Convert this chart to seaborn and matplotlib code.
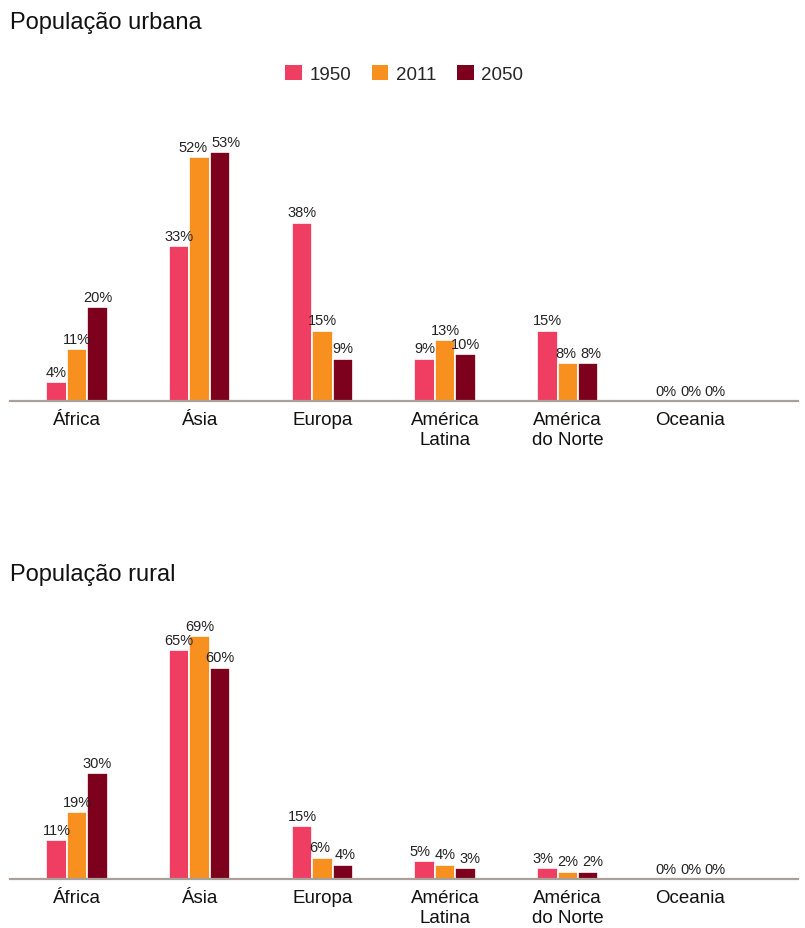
import pandas as pd
import matplotlib
matplotlib.use('Agg')
import matplotlib.pyplot as plt
import seaborn as sns
from matplotlib.patches import Patch

regioes = ['África', 'Ásia', 'Europa', 'América\nLatina', 'América\ndo Norte', 'Oceania']
anos = ['1950', '2011', '2050']
cores = ['#F03E62', '#F7901E', '#7D001C']

urbana_1950 = [4, 33, 38, 9, 15, 0]
urbana_2011 = [11, 52, 15, 13, 8, 0]
urbana_2050 = [20, 53, 9, 10, 8, 0]

rural_1950 = [11, 65, 15, 5, 3, 0]
rural_2011 = [19, 69, 6, 4, 2, 0]
rural_2050 = [30, 60, 4, 3, 2, 0]


def to_long(s1950, s2011, s2050):
    rows = []
    for ano, serie in zip(anos, [s1950, s2011, s2050]):
        for reg, v in zip(regioes, serie):
            rows.append({'regiao': reg, 'ano': ano, 'valor': v})
    return pd.DataFrame(rows)


sns.set_style('white')
plt.rcParams['font.family'] = ['Liberation Sans', 'DejaVu Sans']

fig = plt.figure(figsize=(8.05, 9.29), dpi=100)
ax_u = fig.add_axes([10 / 805, 1 - 402 / 929, 788 / 805, 60 * 4.69 / 929])
ax_r = fig.add_axes([10 / 805, 1 - 880 / 929, 788 / 805, 75 * 3.52 / 929])

all_labels = []
for ax, df, ymax in [(ax_u, to_long(urbana_1950, urbana_2011, urbana_2050), 60),
                     (ax_r, to_long(rural_1950, rural_2011, rural_2050), 75)]:
    sns.barplot(data=df, x='regiao', y='valor', hue='ano', order=regioes,
                hue_order=anos, palette=cores, saturation=1, width=0.5,
                edgecolor='white', linewidth=1.2, ax=ax)
    per_hue = []
    for cont in ax.containers:
        vals = [p.get_height() for p in cont]
        per_hue.append(ax.bar_label(cont, labels=[f'{v:.0f}%' for v in vals],
                                    padding=2.5, fontsize=10.5, color='#222222'))
    all_labels.append(per_hue)
    ax.set_xlim(-0.546, 5.876)
    ax.set_ylim(0, ymax)
    ax.set_xlabel('')
    ax.set_ylabel('')
    ax.set_yticks([])
    for s in ['left', 'right', 'top']:
        ax.spines[s].set_visible(False)
    ax.spines['bottom'].set_color('#A9A199')
    ax.spines['bottom'].set_linewidth(1.6)
    ax.tick_params(axis='x', length=0, pad=7.5, labelsize=13.5, labelcolor='#111111')
    for lbl in ax.get_xticklabels():
        lbl.set_linespacing(1.2)
        lbl.set_verticalalignment('top')
    ax.get_legend().remove()
    ax.set_facecolor('none')

# push apart neighbouring value labels that collide
fig.canvas.draw()
renderer = fig.canvas.get_renderer()
gap_px = 4
for per_hue in all_labels:
    for i in range(len(regioes)):
        trio = [per_hue[h][i] for h in range(len(anos))]
        for _ in range(6):
            moved = False
            for a, b in zip(trio[:-1], trio[1:]):
                ea = a.get_window_extent(renderer)
                eb = b.get_window_extent(renderer)
                if ea.y0 < eb.y1 and eb.y0 < ea.y1:
                    ov = ea.x1 + gap_px - eb.x0
                    if ov > 0.5:
                        d = ov / 2 * 72 / fig.dpi
                        ax_, ay_ = a.xyann
                        bx_, by_ = b.xyann
                        a.xyann = (ax_ - d, ay_)
                        b.xyann = (bx_ + d, by_)
                        moved = True
            if not moved:
                break

fig.text(10 / 805, 1 - 29 / 929, 'População urbana', fontsize=17, color='#111111', va='baseline')
fig.text(10 / 805, 1 - 581 / 929, 'População rural', fontsize=17, color='#111111', va='baseline')

handles = [Patch(facecolor=c, edgecolor='none') for c in cores]
fig.legend(handles, anos, loc='center', bbox_to_anchor=(404 / 805, 1 - 75 / 929),
           ncol=3, frameon=False, fontsize=13.5, handlelength=0.9, handleheight=0.9,
           handletextpad=0.4, columnspacing=1.1)

fig.savefig('out.png', dpi=100, facecolor='white')
